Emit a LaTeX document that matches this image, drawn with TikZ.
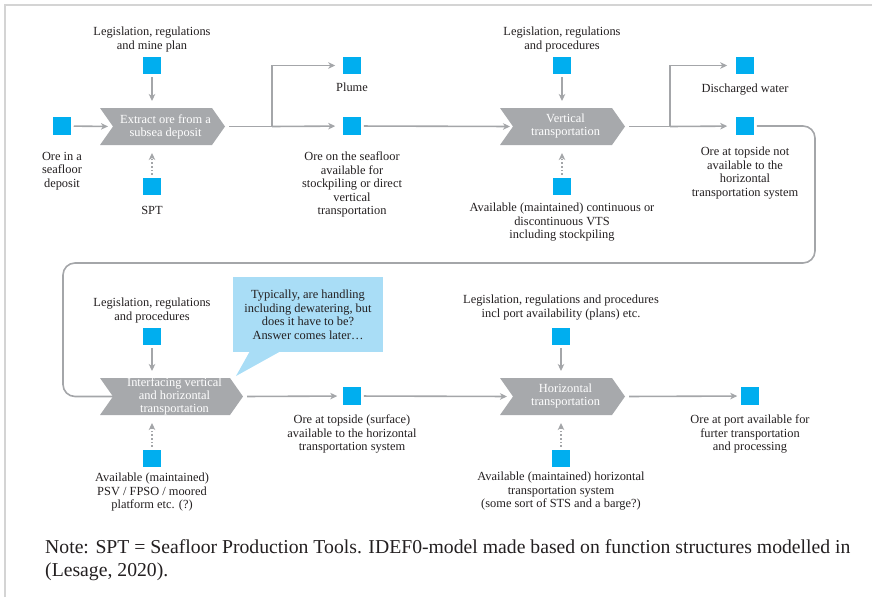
\documentclass[tikz,border=0pt]{standalone}
\usepackage{fontspec}
\setmainfont{Liberation Serif}
\usetikzlibrary{arrows.meta}

\definecolor{boxgray}{HTML}{A7A9AC}
\definecolor{linegray}{HTML}{A4A6A9}
\definecolor{sqblue}{HTML}{00AEEF}
\definecolor{calloutblue}{HTML}{A9DDF6}
\definecolor{framegray}{HTML}{D4D4D4}
\definecolor{labeltext}{HTML}{231F20}

\tikzset{
  sq/.style={fill=sqblue, minimum size=17.5pt, inner sep=0pt, outer sep=0pt},
  lbl/.style={align=center, anchor=north, inner sep=0pt, text=labeltext,
              font=\fontsize{12.4}{13.5}\selectfont},
  proctext/.style={align=center, text=white, inner sep=0pt,
              font=\fontsize{12.4}{13}\selectfont},
  conn/.style={draw=linegray, line width=1.6pt},
  arr/.style={conn, -{Stealth[length=7pt,width=6.5pt,inset=2pt]}},
  mech/.style={arr, dash pattern=on 1.6pt off 2pt},
  frameline/.style={draw=framegray, line width=2pt}
}

% process box drawn as a chevron: name, left x, right x, centre y, text
\newcommand\procshape[5]{%
  \fill[boxgray] (#2,#4-18.5) -- (#3-13,#4-18.5) -- (#3,#4) -- (#3-13,#4+18.5)
       -- (#2,#4+18.5) -- (#2+13,#4) -- cycle;
  \coordinate (#1-in) at (#2+13,#4);
  \coordinate (#1-out) at (#3,#4);
  \coordinate (#1-top) at (#2,#4-18.5);
  \coordinate (#1-bot) at (#2,#4+18.5);
  \node[proctext] (#1) at ({(#2+#3)/2+3},#4) {#5};
}

\begin{document}
\begin{tikzpicture}[x=1pt, y=-1pt]
\useasboundingbox (0,0) rectangle (872,597);

% page frame (top and left edges)
\draw[frameline] (5,597) -- (5,5) -- (872,5);

% ---------------- first row ----------------
\procshape{p1}{100}{225}{126.5}{Extract ore from a\\subsea deposit}
\procshape{p2}{500}{625}{126.5}{Vertical\\transportation}

\node[sq] (ore)   at (62,126) {};
\node[sq] (ctl1)  at (152,65.5) {};
\node[sq] (mec1)  at (152,186.5) {};
\node[sq] (plume) at (352,65.5) {};
\node[sq] (sea)   at (352,126) {};
\node[sq] (ctl2)  at (562,65.5) {};
\node[sq] (mec2)  at (562,186.5) {};
\node[sq] (water) at (745,65.5) {};
\node[sq] (top)   at (745,126) {};

\node[lbl] (Lore)   at (62,152)   {Ore in a\\seafloor\\deposit};
\node[lbl] (Lctl1)  at (152,27)   {Legislation, regulations\\and mine plan};
\node[lbl] (Lmec1)  at (152,206.5){SPT};
\node[lbl] (Lplume) at (352,83)   {Plume};
\node[lbl] (Lsea)   at (352,152)  {Ore on the seafloor\\available for\\stockpiling or direct\\vertical\\transportation};
\node[lbl] (Lctl2)  at (562,27)   {Legislation, regulations\\and procedures};
\node[lbl] (Lmec2)  at (562,203)  {Available (maintained) continuous or\\discontinuous VTS\\including stockpiling};
\node[lbl] (Lwater) at (745,84)   {Discharged water};
\node[lbl] (Ltop)   at (745,147)  {Ore at topside not\\available to the\\horizontal\\transportation system};

% junctions of the branching outputs
\coordinate (j1) at (272,126.5);
\coordinate (j2) at (670,126.5);

\draw[arr, shorten <=3pt, shorten >=5pt] (ore) -- (p1-in);
\draw[arr, shorten <=3pt, shorten >=7pt] (ctl1) -- (ctl1 |- p1-top);
\draw[mech, shorten <=3pt, shorten >=8pt] (mec1) -- (mec1 |- p1-bot);
\draw[conn, shorten <=4pt] (p1-out) -- (j1);
\draw[arr, shorten >=8pt] (j1) |- (plume);
\draw[arr, shorten >=8pt] (j1) -- (sea);
\draw[arr, shorten <=3pt, shorten >=3pt] (sea) -- (p2-in);
\draw[arr, shorten <=3pt, shorten >=7pt] (ctl2) -- (ctl2 |- p2-top);
\draw[mech, shorten <=3pt, shorten >=8pt] (mec2) -- (mec2 |- p2-bot);
\draw[conn, shorten <=4pt] (p2-out) -- (j2);
\draw[arr, shorten >=9pt] (j2) |- (water);
\draw[arr, shorten >=9pt] (j2) -- (top);

% ---------------- second row ----------------
\procshape{p3}{100}{243}{396.5}{\fontsize{12.4}{10.8}\selectfont Interfacing vertical\\and horizontal\\transportation}
\procshape{p4}{500}{625}{396.5}{Horizontal\\transportation}

\node[sq] (ctl3) at (152,336.5) {};
\node[sq] (mec3) at (152,458.5) {};
\node[sq] (surf) at (352,396) {};
\node[sq] (ctl4) at (561,336.5) {};
\node[sq] (mec4) at (561,458.5) {};
\node[sq] (port) at (750,396) {};

\node[lbl] (Lctl3) at (152,298) {Legislation, regulations\\and procedures};
\node[lbl] (Lmec3) at (152,473) {Available (maintained)\\PSV / FPSO / moored\\platform etc. (?)};
\node[lbl] (Lsurf) at (352,415) {Ore at topside (surface)\\available to the horizontal\\transportation system};
\node[lbl] (Lctl4) at (561,295) {Legislation, regulations and procedures\\incl port availability (plans) etc.};
\node[lbl] (Lmec4) at (561,472) {Available (maintained) horizontal\\transportation system\\(some sort of STS and a barge?)};
\node[lbl] (Lport) at (750,415) {Ore at port available for\\furter transportation\\and processing};

% return loop from the first row into the interface step
\coordinate (loopR) at (815,263);
\coordinate (loopL) at (63,263);
\draw[conn, rounded corners=12pt] ([xshift=3pt]top.east) -| (loopR) -- (loopL) |- (p3-in);

\draw[arr, shorten <=3pt, shorten >=7pt] (ctl3) -- (ctl3 |- p3-top);
\draw[mech, shorten <=3pt, shorten >=8pt] (mec3) -- (mec3 |- p3-bot);
\draw[arr, shorten <=4pt, shorten >=6pt] (p3-out) -- (surf);
\draw[arr, shorten <=3pt, shorten >=6pt] (surf) -- (p4-in);
\draw[arr, shorten <=3pt, shorten >=7pt] (ctl4) -- (ctl4 |- p4-top);
\draw[mech, shorten <=3pt, shorten >=8pt] (mec4) -- (mec4 |- p4-bot);
\draw[arr, shorten <=4pt, shorten >=4pt] (p4-out) -- (port);

% speech bubble
\fill[calloutblue] (233,277) rectangle (383,352);
\fill[calloutblue] (250,351) -- (236,376) -- (281,351) -- cycle;
\node[lbl] (note1) at (308,290) {Typically, are handling\\including dewatering, but\\does it have to be?\\Answer comes later…};

% caption
\node[anchor=north west, align=left, inner sep=0pt, text=labeltext,
      font=\fontsize{19.7}{23}\selectfont] (caption) at (45,539)
  {Note: SPT = Seafloor Production Tools. IDEF0-model made based on function structures modelled in\\(Lesage, 2020).};
\end{tikzpicture}
\end{document}
